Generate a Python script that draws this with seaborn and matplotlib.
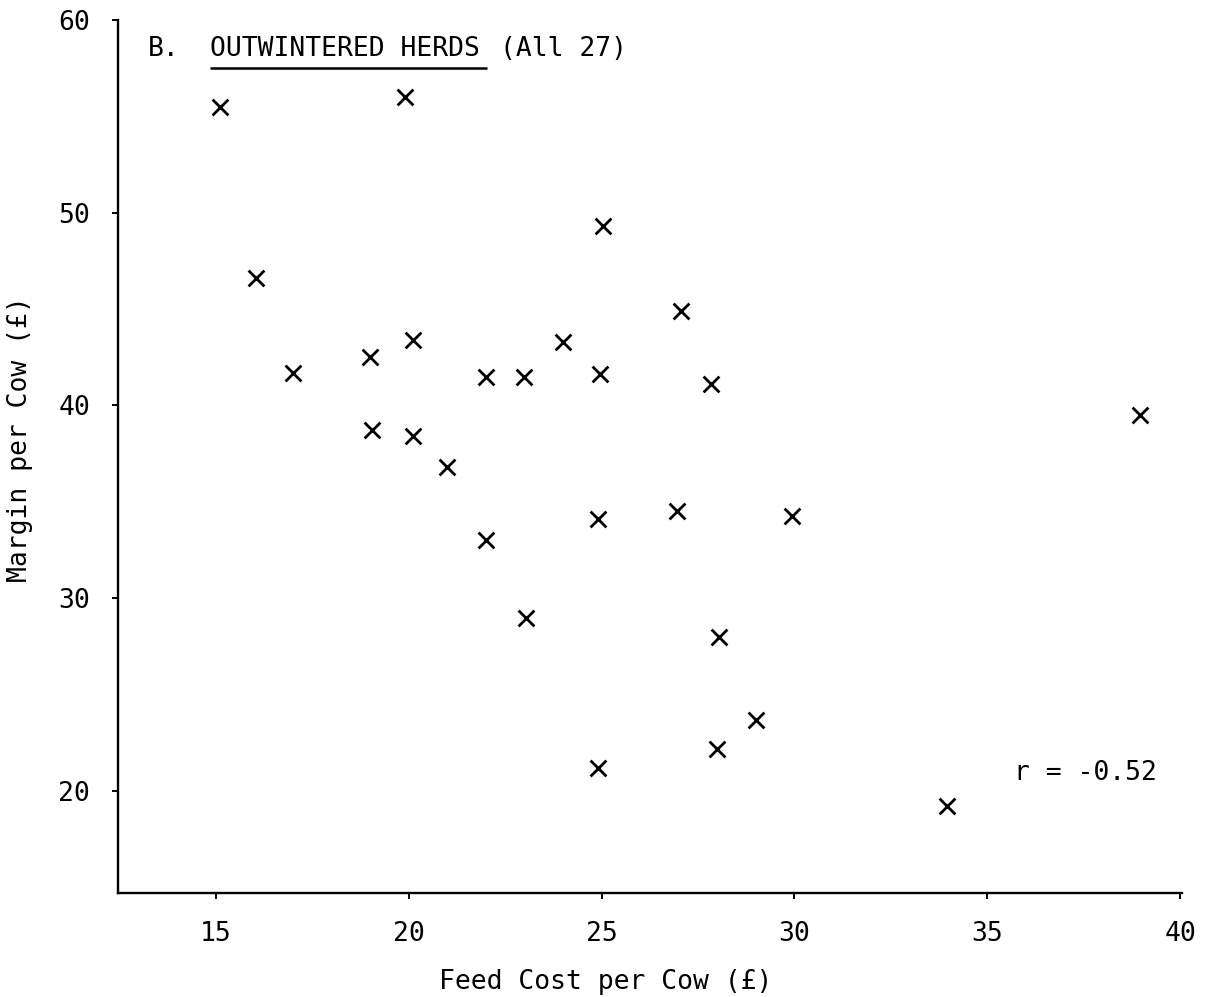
import matplotlib
matplotlib.use("Agg")
import matplotlib.pyplot as plt
import seaborn as sns
import pandas as pd

# Feed cost and margin per cow for the 27 outwintered herds
feed_cost = [15.1, 19.9, 16.05, 25.05, 17.0, 19.0, 20.1, 22.0, 23.0, 24.0,
             24.95, 27.05, 27.85, 38.95, 19.05, 20.1, 21.0, 22.0, 24.9, 26.95,
             29.95, 23.05, 28.05, 29.0, 28.0, 24.9, 33.95]
margin = [55.5, 56.0, 46.6, 49.3, 41.7, 42.5, 43.4, 41.45, 41.45, 43.3,
          41.65, 44.9, 41.1, 39.5, 38.7, 38.4, 36.8, 33.0, 34.1, 34.5,
          34.25, 28.95, 28.0, 23.7, 22.15, 21.2, 19.2]
x_ticks = [15, 20, 25, 30, 35, 40]
y_ticks = [20, 30, 40, 50, 60]

df = pd.DataFrame({"feed": feed_cost, "margin": margin})

sns.set_theme(style="ticks")
plt.rcParams["font.family"] = ["DejaVu Sans Mono"]
plt.rcParams["axes.linewidth"] = 1.7
plt.rcParams["text.color"] = "black"
plt.rcParams["axes.labelcolor"] = "black"

FS = 19

fig = plt.figure(figsize=(12.15, 9.97), dpi=100)
ax = fig.add_axes([0.0971, 0.1043, 0.8757, 0.8757])

sns.scatterplot(data=df, x="feed", y="margin", marker="x", s=130,
                color="black", linewidth=2.0, ax=ax)

ax.set_xlim(12.46, 40.05)
ax.set_ylim(14.7, 60)
ax.set_xticks(x_ticks)
ax.set_yticks(y_ticks)
ax.tick_params(axis="both", labelsize=FS, colors="black", length=4,
               width=1.4)
ax.tick_params(axis="y", pad=16)
ax.tick_params(axis="x", pad=16)
for s in ("top", "right"):
    ax.spines[s].set_visible(False)
for s in ("left", "bottom"):
    ax.spines[s].set_color("black")

ax.set_xlabel("Feed Cost per Cow (£)", fontsize=FS)
ax.set_ylabel("Margin per Cow (£)", fontsize=FS)
ax.xaxis.set_label_coords(0.458, -0.087)
ax.yaxis.set_label_coords(-0.08, 0.52)

ax.text(13.24, 58.5, "B.", fontsize=FS, va="center", ha="left")
ax.text(14.84, 58.5, "OUTWINTERED HERDS", fontsize=FS, va="center",
        ha="left")
ax.plot([14.84, 22.02], [57.5, 57.5], color="black", lw=1.8,
        solid_capstyle="butt")
ax.text(22.36, 58.5, "(All 27)", fontsize=FS, va="center", ha="left")
ax.text(35.7, 20.95, "r = -0.52", fontsize=FS, va="center", ha="left")

fig.savefig("out.png", dpi=100, facecolor="white")
